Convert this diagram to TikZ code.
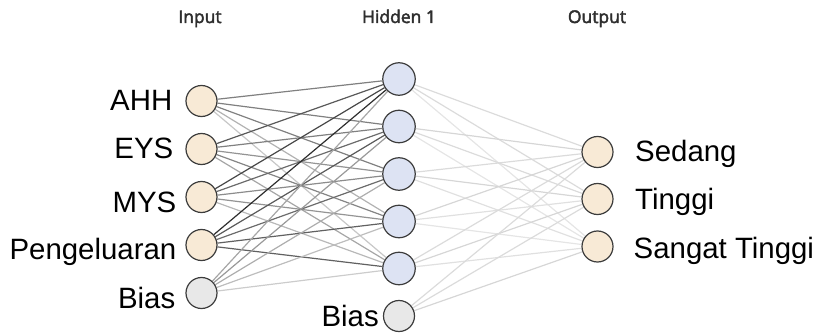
\documentclass[tikz,border=0pt]{standalone}
\usepackage{fontspec}
\setmainfont{Liberation Sans}
\newfontfamily\hdrfont{Open Sans}[FakeBold=2.5]
\usetikzlibrary{backgrounds}
\definecolor{inFill}{HTML}{F8EAD6}
\definecolor{hidFill}{HTML}{DDE3F3}
\definecolor{biasFill}{HTML}{E8E8E8}
\definecolor{ringCol}{HTML}{3C3C3C}
\definecolor{hdrCol}{HTML}{2E2E2E}
\tikzset{
  neuron/.style={circle, draw=ringCol, line width=1.2pt, minimum size=31pt, inner sep=0pt},
  inneuron/.style={neuron, fill=inFill},
  hidneuron/.style={neuron, fill=hidFill, minimum size=32.5pt},
  biasneuron/.style={neuron, fill=biasFill},
  lbl/.style={font=\fontsize{29.4}{31}\selectfont, inner sep=0pt, text=black},
  hdr/.style={font=\hdrfont\fontsize{17.5}{20}\selectfont, text=hdrCol, inner sep=0pt},
  wire/.style={line width=1.2pt},
}
\begin{document}
\begin{tikzpicture}[x=1pt,y=-1pt]
\useasboundingbox (0,0) rectangle (817,334);
% headers
\node[hdr, anchor=base] (hIn) at (200,23) {Input};
\node[hdr, anchor=base] (hHid) at (399,23) {Hidden 1};
\node[hdr, anchor=base] (hOut) at (597,23) {Output};
% input layer
\node[inneuron] (i1) at (201.5,101) {};
\node[inneuron] (i2) at (201.5,149) {};
\node[inneuron] (i3) at (201.5,197) {};
\node[inneuron] (i4) at (201.5,245) {};
\node[biasneuron] (i5) at (201.5,293) {};
% hidden layer
\node[hidneuron] (h1) at (399,79) {};
\node[hidneuron] (h2) at (399,126.5) {};
\node[hidneuron] (h3) at (399,174) {};
\node[hidneuron] (h4) at (399,221.5) {};
\node[hidneuron] (h5) at (399,268.5) {};
\node[biasneuron] (h6) at (399,316) {};
% output layer
\node[inneuron] (o1) at (597.5,152) {};
\node[inneuron] (o2) at (597.5,199) {};
\node[inneuron] (o3) at (597.5,246.5) {};
% labels
\node[lbl, anchor=base east] (lAHH) at (172.5,110.5) {AHH};
\node[lbl, anchor=base east] (lEYS) at (173.5,158.5) {EYS};
\node[lbl, anchor=base east] (lMYS) at (176.5,212) {MYS};
\node[lbl, anchor=base east] (lPen) at (176.5,259.5) {Pengeluaran};
\node[lbl, anchor=base east] (lBi) at (175.5,308) {Bias};
\node[lbl, anchor=base east] (lBh) at (379,326) {Bias};
\node[lbl, anchor=base west] (lSed) at (635,162) {Sedang};
\node[lbl, anchor=base west] (lTin) at (635,210) {Tinggi};
\node[lbl, anchor=base west] (lSan) at (633.5,258) {Sangat Tinggi};
% connectors
\begin{scope}[on background layer]
\foreach \s/\h [count=\k] in {
  i1/{50,50,50,30,22},
  i2/{65,50,42,48,35},
  i3/{72,58,45,42,28},
  i4/{82,65,58,62,62},
  i5/{35,40,32,26,20}}{
  \foreach \w [count=\j] in \h {
    \draw[wire, draw=black!\w] (\s) -- (h\j);
  }
}
\foreach \s/\h in {
  h1/{14,14,10},
  h2/{16,14,10},
  h3/{14,16,12},
  h4/{16,12,10},
  h5/{14,16,12},
  h6/{14,14,16}}{
  \foreach \w [count=\j] in \h {
    \draw[wire, draw=black!\w] (\s) -- (o\j);
  }
}
\end{scope}
\end{tikzpicture}
\end{document}
